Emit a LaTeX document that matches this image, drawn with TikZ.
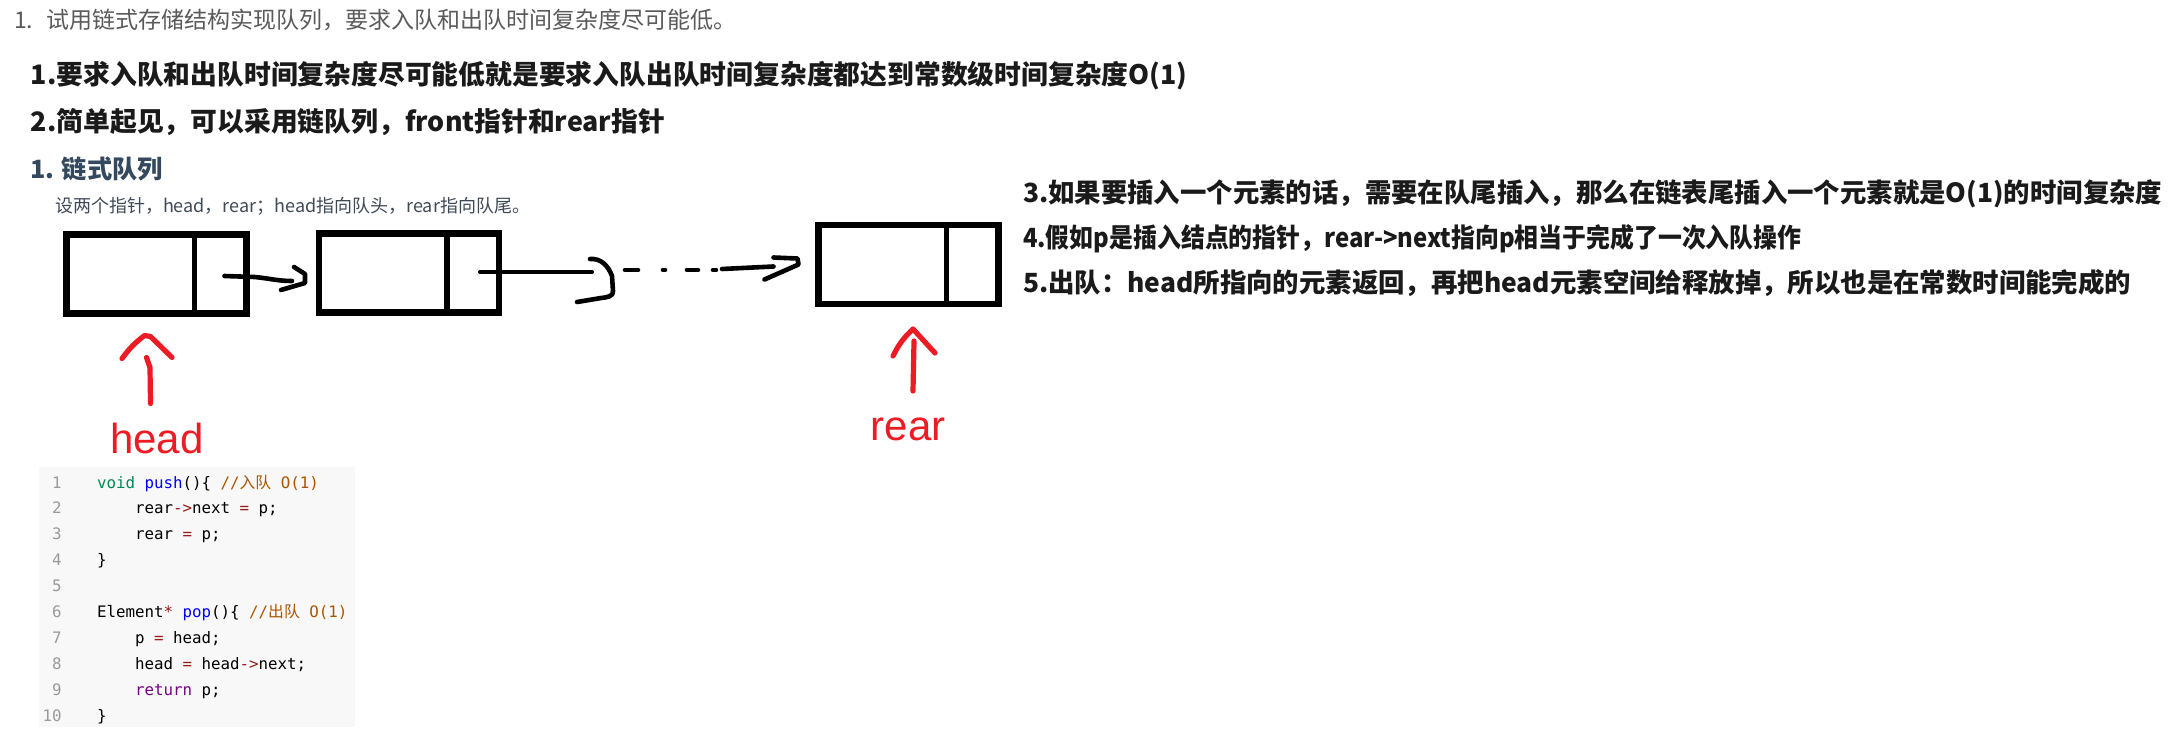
\documentclass[tikz,border=0pt]{standalone}
\usepackage{fontspec}
\setmainfont{Noto Sans CJK SC}
\setmonofont{DejaVu Sans Mono}
\newfontfamily\cjk{Noto Sans CJK SC}
\newfontfamily\lblfont{Liberation Sans}
\usetikzlibrary{calc}

\definecolor{cInk}{HTML}{1A1A1A}
\definecolor{cGrey}{HTML}{5A5A5A}
\definecolor{cSlate}{HTML}{34495E}
\definecolor{cNote}{HTML}{3F4A57}
\definecolor{pRed}{HTML}{ED1C24}
\definecolor{cBg}{HTML}{F8F8F8}
\definecolor{cType}{HTML}{008855}
\definecolor{cDef}{HTML}{0000FF}
\definecolor{cCom}{HTML}{AA5500}
\definecolor{cOp}{HTML}{981A1A}
\definecolor{cKey}{HTML}{770088}
\definecolor{cNum}{HTML}{999999}

\begin{document}
\begin{tikzpicture}[x=0.5pt,y=-0.5pt,
  qnode/.style={draw,line width=3.25pt,minimum width=90pt,minimum height=39.5pt,inner sep=0pt,outer sep=0pt},
  hand/.style={line width=2.3pt,line cap=round,line join=round},
  redhand/.style={hand,draw=pRed,line width=2.6pt},
  qtext/.style={anchor=base west,inner sep=0pt,outer sep=0pt},
  qbig/.style={qtext,text=cInk,font=\fontsize{13.4pt}{16pt}\selectfont\bfseries},
  qside/.style={qtext,text=cInk,font=\fontsize{13.2pt}{16pt}\selectfont\bfseries},
  qcode/.style={qtext,text=black,font=\fontsize{7.9pt}{9pt}\selectfont\ttfamily},
  qlno/.style={anchor=base east,inner sep=0pt,text=cNum,font=\fontsize{7.9pt}{9pt}\selectfont\ttfamily},
  qlabel/.style={anchor=base,inner sep=0pt,text=pRed,font=\fontsize{21pt}{24pt}\selectfont\lblfont}]
\fill[white] (0,0) rectangle (2182,738);
\useasboundingbox (0,0) rectangle (2182,738);

% question and notes
\node[qtext,text=cGrey,font=\fontsize{11.5pt}{13pt}\selectfont] (qno) at (14,29) {1.};
\node[qtext,text=cGrey,font=\fontsize{11.5pt}{13pt}\selectfont] (q) at (46,29) {试用链式存储结构实现队列，要求入队和出队时间复杂度尽可能低。};
\node[qbig] (s1) at (31,84) {1.要求入队和出队时间复杂度尽可能低就是要求入队出队时间复杂度都达到常数级时间复杂度O(1)};
\node[qbig] (s2) at (31,132) {2.简单起见，可以采用链队列，front指针和rear指针};
\node[qtext,text=cSlate,font=\fontsize{12.6pt}{15pt}\selectfont\bfseries] (h1) at (30,178) {1. 链式队列};
\node[qtext,text=cNote,font=\fontsize{9pt}{10pt}\selectfont] (d1) at (55,212) {设两个指针，head，rear；head指向队头，rear指向队尾。};
\node[qside] (s3) at (1023,202) {3.如果要插入一个元素的话，需要在队尾插入，那么在链表尾插入一个元素就是O(1)的时间复杂度};
\node[qside] (s4) at (1023,247) {\scalebox{0.905}[1]{4.假如p是插入结点的指针，rear->next指向p相当于完成了一次入队操作}};
\node[qside] (s5) at (1023,292) {5.出队：head所指向的元素返回，再把head元素空间给释放掉，所以也是在常数时间能完成的};

% queue nodes
\node[qnode] (n1) at (156.5,274) {};
\node[qnode] (n2) at (409,273) {};
\node[qnode] (n3) at (908.5,264.5) {};
\foreach \n in {n1,n2,n3}
  \draw[line width=2.8pt] ($(\n.north east)+(-52,0)$) -- ($(\n.south east)+(-52,0)$);

% n1 -> n2
\draw[hand] ($(n1.east)+(-22,2)$) -- ++(30,1) to[out=-5,in=180] ($(n2.west)+(-27,8)$);
\draw[hand] ($(n2.west)+(-25,-6)$) -- ++(11,7) -- ++(0,9) -- ++(-24,7);
% n2 -> ... -> n3
\draw[hand,line width=2pt] ($(n2.east)+(-19,-1)$) -- ++(112,0);
\draw[hand] (590,259) to[out=5,in=110] (612,276) -- (613,291) to[out=-80,in=5] (601,298) -- (577,302);
\draw[hand] (625,270) -- (638,270);
\draw[hand] (663,270) -- (665,270);
\draw[hand] (687,270) -- (698,270);
\draw[hand] (713,270) -- (716,270);
\draw[hand] (722,269) -- ($(n3.west)+(-45,2)$);
\draw[hand] ($(n3.west)+(-45,-7)$) -- ($(n3.west)+(-21,-6)$) -- ($(n3.west)+(-20,0)$) -- ($(n3.west)+(-54,15)$);

% head / rear
\node[qlabel] (lhead) at (157,453) {head};
\node[qlabel] (lrear) at (908,440) {rear};
\coordinate (t1) at ($(n1.south)+(-10,22)$);
\coordinate (t3) at ($(n3.south)+(4.5,25)$);
\draw[redhand] ($(t1)+(4,68)$) -- ($(t1)+(3.5,32)$) -- ($(t1)+(0,22)$);
\draw[redhand] ($(t1)+(-24.5,23)$) to[bend left=8] ($(t1)+(-2,0)$) -- ($(t1)+(4,1)$) -- ($(t1)+(25.5,22)$);
\draw[redhand] ($(t3)+(0,62)$) -- ($(t3)+(1,12)$);
\draw[redhand] ($(t3)+(-20,27)$) to[bend left=10] (t3) -- ($(t3)+(22,24)$);

% code
\fill[cBg] (39,467) rectangle (355,727);
\foreach \i in {1,...,10}
  \node[qlno] (l\i) at (62,{488+(\i-1)*25.9}) {\i};
\node[qcode] (c1) at (97,488) {\textcolor{cType}{void} \textcolor{cDef}{push}()\{ \textcolor{cCom}{//{\cjk 入队} O(1)}};
\node[qcode] (c2) at (135,513.9) {rear\textcolor{cOp}{->}next \textcolor{cOp}{=} p;};
\node[qcode] (c3) at (135,539.8) {rear \textcolor{cOp}{=} p;};
\node[qcode] (c4) at (97,565.7) {\}};
\node[qcode] (c6) at (97,617.5) {Element\textcolor{cOp}{*} \textcolor{cDef}{pop}()\{ \textcolor{cCom}{//{\cjk 出队} O(1)}};
\node[qcode] (c7) at (135,643.4) {p \textcolor{cOp}{=} head;};
\node[qcode] (c8) at (135,669.3) {head \textcolor{cOp}{=} head\textcolor{cOp}{->}next;};
\node[qcode] (c9) at (135,695.2) {\textcolor{cKey}{return} p;};
\node[qcode] (c10) at (97,721.1) {\}};
\end{tikzpicture}
\end{document}
